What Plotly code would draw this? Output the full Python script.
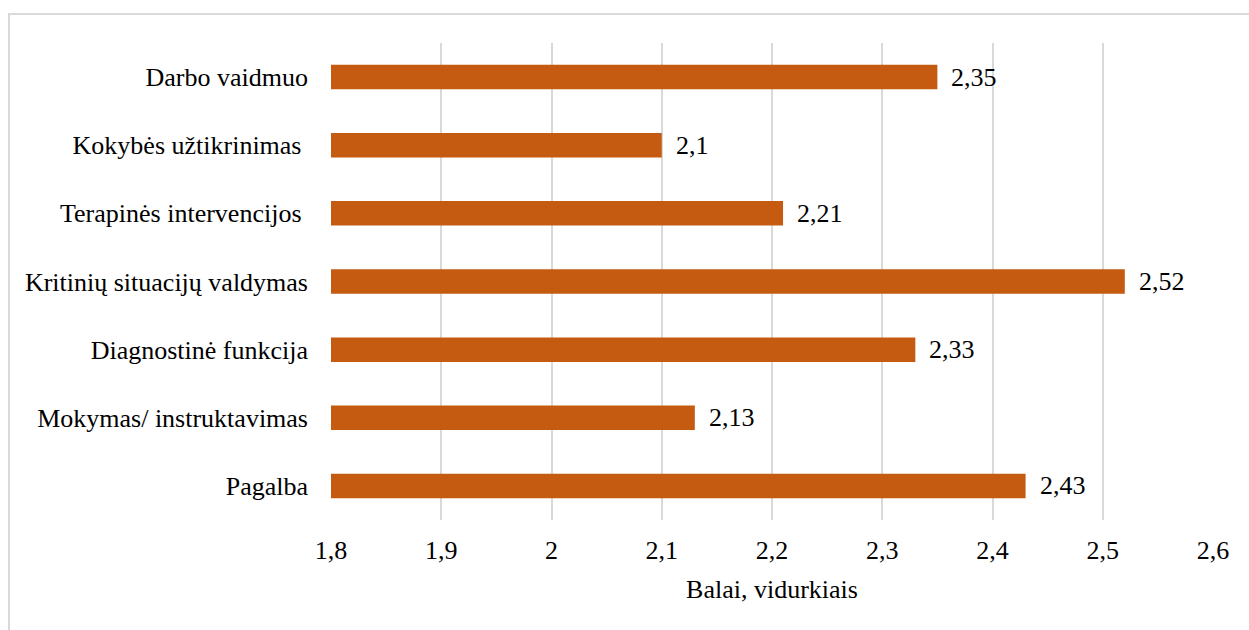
import plotly.graph_objects as go

categories = ["Pagalba", "Mokymas/ instruktavimas", "Diagnostinė funkcija",
              "Kritinių situacijų valdymas", "Terapinės intervencijos\u00a0",
              "Kokybės užtikrinimas\u00a0", "Darbo vaidmuo"]
values = [2.43, 2.13, 2.33, 2.52, 2.21, 2.10, 2.35]
labels = ["2,43", "2,13", "2,33", "2,52", "2,21", "2,1", "2,35"]
tick_vals = [1.8, 1.9, 2.0, 2.1, 2.2, 2.3, 2.4, 2.5, 2.6]
tick_text = ["1,8", "1,9", "2", "2,1", "2,2", "2,3", "2,4", "2,5", "2,6"]

FONT = "Liberation Serif, Times New Roman, serif"
FS = 26
W, H = 1249, 630
L, R, T, B = 331, 36, 43, 110

fig = go.Figure(go.Bar(
    y=categories, x=[v - 1.8 for v in values], base=1.8, orientation="h",
    marker=dict(color="#C55A11", line=dict(width=0)), width=0.36,
    hoverinfo="skip",
))

for c, v, t in zip(categories, values, labels):
    fig.add_annotation(x=v, y=c, text=t, showarrow=False, xanchor="left",
                       xshift=12, font=dict(family=FONT, size=FS, color="#000000"))

pw, ph = W - L - R, H - T - B
fig.add_shape(type="rect", xref="paper", yref="paper",
              x0=(9 - L) / pw, x1=1.2, y0=-0.5, y1=1 + (T - 14) / ph,
              line=dict(color="#d9d9d9", width=2), layer="below")

fig.update_layout(
    width=W, height=H, margin=dict(l=L, r=R, t=T, b=B, pad=0),
    paper_bgcolor="white", plot_bgcolor="white", showlegend=False,
    font=dict(family=FONT, size=FS, color="#000000"),
    xaxis=dict(range=[1.8, 2.6], tickvals=tick_vals, ticktext=tick_text,
               showgrid=True, gridcolor="#d9d9d9", gridwidth=2, zeroline=False,
               showline=False, ticks="", ticklabelstandoff=12,
               tickfont=dict(family=FONT, size=FS),
               title=dict(text="Balai, vidurkiais", standoff=15,
                          font=dict(family=FONT, size=FS))),
    yaxis=dict(categoryorder="array", categoryarray=categories,
               showgrid=False, zeroline=False, showline=False, ticks="",
               tickfont=dict(family=FONT, size=FS),
               ticklabelstandoff=22, range=[-0.5, 6.5]),
)

fig.write_html("out.html", config={"displayModeBar": False},
               post_script="document.body.style.margin='0';document.body.style.padding='0';")
